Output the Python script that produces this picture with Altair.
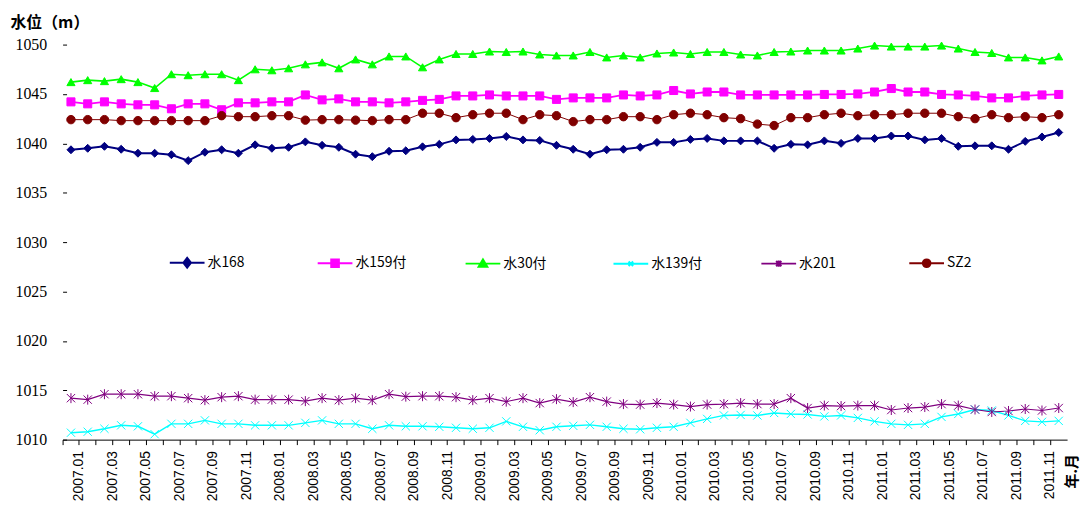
import altair as alt
import pandas as pd

months = [
    "2007.01", "2007.02", "2007.03", "2007.04", "2007.05", "2007.06", "2007.07", "2007.08", "2007.09", "2007.10", "2007.11", "2007.12",
    "2008.01", "2008.02", "2008.03", "2008.04", "2008.05", "2008.06", "2008.07", "2008.08", "2008.09", "2008.10", "2008.11", "2008.12",
    "2009.01", "2009.02", "2009.03", "2009.04", "2009.05", "2009.06", "2009.07", "2009.08", "2009.09", "2009.10", "2009.11", "2009.12",
    "2010.01", "2010.02", "2010.03", "2010.04", "2010.05", "2010.06", "2010.07", "2010.08", "2010.09", "2010.10", "2010.11", "2010.12",
    "2011.01", "2011.02", "2011.03", "2011.04", "2011.05", "2011.06", "2011.07", "2011.08", "2011.09", "2011.10", "2011.11", "2011.12",
]

series_names = ["水168", "水159付", "水30付", "水139付", "水201", "SZ2"]
series_colors = ["#000080", "#FF00FF", "#00FF00", "#00FFFF", "#800080", "#800000"]

s168 = [1039.35, 1039.5, 1039.7, 1039.4, 1039.0, 1039.0, 1038.85, 1038.25, 1039.1, 1039.35,
        1039.0, 1039.85, 1039.5, 1039.6, 1040.15, 1039.8, 1039.6, 1038.9, 1038.65, 1039.2,
        1039.25, 1039.65, 1039.9, 1040.35, 1040.4, 1040.5, 1040.7, 1040.35, 1040.3, 1039.8,
        1039.4, 1038.9, 1039.35, 1039.4, 1039.6, 1040.1, 1040.1, 1040.4, 1040.5, 1040.25,
        1040.25, 1040.25, 1039.5, 1039.9, 1039.85, 1040.25, 1040.0, 1040.5, 1040.5, 1040.75,
        1040.75, 1040.35, 1040.5, 1039.7, 1039.75, 1039.75, 1039.4, 1040.2, 1040.65, 1041.1]

s159 = [1044.2, 1044.0, 1044.2, 1044.0, 1043.9, 1043.9, 1043.5, 1044.0, 1044.0, 1043.4,
        1044.1, 1044.1, 1044.2, 1044.2, 1044.9, 1044.4, 1044.5, 1044.2, 1044.2, 1044.1,
        1044.2, 1044.35, 1044.45, 1044.8, 1044.8, 1044.9, 1044.8, 1044.8, 1044.8, 1044.45,
        1044.6, 1044.6, 1044.6, 1044.9, 1044.8, 1044.9, 1045.35, 1045.0, 1045.2, 1045.2,
        1044.9, 1044.9, 1044.9, 1044.9, 1044.9, 1044.95, 1044.95, 1045.0, 1045.2, 1045.55,
        1045.2, 1045.2, 1044.95, 1044.9, 1044.8, 1044.6, 1044.6, 1044.8, 1044.9, 1044.95]

s30 = [1046.2, 1046.4, 1046.3, 1046.5, 1046.2, 1045.6, 1047.0, 1046.9, 1047.0, 1047.0,
       1046.4, 1047.5, 1047.4, 1047.6, 1048.0, 1048.2, 1047.6, 1048.5, 1048.0, 1048.8,
       1048.8, 1047.7, 1048.5, 1049.05, 1049.05, 1049.3, 1049.25, 1049.3, 1049.0, 1048.9,
       1048.9, 1049.25, 1048.7, 1048.9, 1048.7, 1049.1, 1049.2, 1049.05, 1049.25, 1049.25,
       1049.0, 1048.9, 1049.25, 1049.3, 1049.4, 1049.4, 1049.4, 1049.6, 1049.9, 1049.8,
       1049.8, 1049.8, 1049.9, 1049.6, 1049.25, 1049.15, 1048.7, 1048.7, 1048.4, 1048.8]

s139 = [1010.7, 1010.8, 1011.1, 1011.45, 1011.35, 1010.55, 1011.6, 1011.6, 1011.95, 1011.6,
        1011.6, 1011.45, 1011.45, 1011.45, 1011.7, 1011.95, 1011.6, 1011.6, 1011.1, 1011.45,
        1011.35, 1011.35, 1011.3, 1011.2, 1011.1, 1011.2, 1011.85, 1011.3, 1010.95, 1011.3,
        1011.4, 1011.5, 1011.3, 1011.1, 1011.05, 1011.2, 1011.3, 1011.7, 1012.1, 1012.45,
        1012.5, 1012.45, 1012.7, 1012.6, 1012.55, 1012.35, 1012.45, 1012.2, 1011.85, 1011.6,
        1011.5, 1011.6, 1012.3, 1012.6, 1013.05, 1012.95, 1012.45, 1011.9, 1011.8, 1011.9]

s201 = [1014.2, 1014.05, 1014.6, 1014.6, 1014.6, 1014.4, 1014.4, 1014.2, 1014.0, 1014.3,
        1014.4, 1014.05, 1014.05, 1014.05, 1013.9, 1014.2, 1014.0, 1014.2, 1014.0, 1014.6,
        1014.35, 1014.4, 1014.4, 1014.3, 1014.0, 1014.2, 1013.85, 1014.2, 1013.7, 1014.1,
        1013.8, 1014.3, 1013.85, 1013.6, 1013.55, 1013.7, 1013.55, 1013.35, 1013.55, 1013.6,
        1013.7, 1013.6, 1013.6, 1014.2, 1013.2, 1013.45, 1013.4, 1013.45, 1013.45, 1013.0,
        1013.2, 1013.3, 1013.6, 1013.45, 1013.05, 1012.8, 1012.9, 1013.1, 1012.95, 1013.2]

sz2 = [1042.4, 1042.4, 1042.4, 1042.3, 1042.3, 1042.3, 1042.3, 1042.3, 1042.3, 1042.8,
       1042.7, 1042.7, 1042.8, 1042.8, 1042.35, 1042.4, 1042.4, 1042.35, 1042.3, 1042.4,
       1042.4, 1043.05, 1043.05, 1042.6, 1042.9, 1043.05, 1043.05, 1042.4, 1042.9, 1042.8,
       1042.2, 1042.4, 1042.4, 1042.7, 1042.7, 1042.4, 1042.9, 1043.05, 1042.9, 1042.6,
       1042.5, 1041.95, 1041.8, 1042.6, 1042.6, 1042.9, 1043.05, 1042.8, 1042.9, 1042.9,
       1043.05, 1043.05, 1043.05, 1042.7, 1042.5, 1042.9, 1042.6, 1042.7, 1042.6, 1042.9]

all_values = [s168, s159, s30, s139, s201, sz2]

# marker styles
line_widths = [2, 1, 1, 2, 2, 2]
marker_shapes = [
    "diamond",
    "square",
    "triangle-up",
    "M-1,-1L1,1M-1,1L1,-1",
    "M-1,-1L1,1M-1,1L1,-1M0,-1.2V1.2",
    "circle",
]
marker_sizes = [64, 72, 72, 36, 36, 72]
legend_shapes = [
    "M-1,0H1M-0.22,0L0,-0.28L0.22,0L0,0.28Z",
    "M-1,0H1M-0.22,-0.22H0.22V0.22H-0.22Z",
    "M-1,0H1M-0.25,0.18L0,-0.24L0.25,0.18Z",
    "M-1,0H1M-0.13,-0.13L0.13,0.13M-0.13,0.13L0.13,-0.13",
    "M-1,0H1M-0.15,-0.15L0.15,0.15M-0.15,0.15L0.15,-0.15M0,-0.18V0.18",
    "M-1,0H1M-0.22,0A0.22,0.22,0,1,0,0.22,0A0.22,0.22,0,1,0,-0.22,0Z",
]

rows = []
for name, vals in zip(series_names, all_values):
    for m, v in zip(months, vals):
        rows.append({"month": m, "series": name, "value": v})
df = pd.DataFrame(rows)

band_half = 1012 / 60 / 2

x_enc = alt.X(
    "month:O",
    sort=months,
    scale=alt.Scale(type="band", domain=months, paddingInner=0, paddingOuter=0),
    axis=alt.Axis(
        title="年.月",
        titleAngle=270,
        titleAlign="right",
        titleBaseline="middle",
        titleX=1016,
        titleY=14,
        titleFont="Noto Sans CJK SC",
        titleFontSize=15,
        titleFontWeight="bold",
        titleColor="black",
        bandPosition=0,
        labelOffset=band_half,
        labelAngle=270,
        labelExpr="toNumber(substring(datum.value, 5, 7)) % 2 == 1 ? datum.value : ''",
        labelOverlap=False,
        labelFont="Liberation Sans",
        labelFontSize=14,
        labelColor="black",
        labelPadding=6,
        tickSize=5,
        tickColor="black",
        domainColor="black",
        grid=False,
    ),
)

y_enc = alt.Y(
    "value:Q",
    scale=alt.Scale(domain=[1010, 1050], nice=False, zero=False),
    axis=alt.Axis(
        values=[1010, 1015, 1020, 1025, 1030, 1035, 1040, 1045, 1050],
        format="d",
        domain=False,
        grid=False,
        offset=-4,
        tickSize=4,
        tickColor="black",
        labelFont="Liberation Serif, DejaVu Serif, serif",
        labelFontSize=16,
        labelColor="black",
        labelPadding=16,
        title="水位（m）",
        titleAngle=0,
        titleAlign="left",
        titleBaseline="middle",
        titleX=-57,
        titleY=-22,
        titleFont="Noto Sans CJK SC",
        titleFontSize=16,
        titleFontWeight="bold",
        titleColor="black",
    ),
)

base = alt.Chart(df).encode(x=x_enc, y=y_enc)

lines = base.mark_line().encode(
    color=alt.Color("series:N", scale=alt.Scale(domain=series_names, range=series_colors), legend=None),
    strokeWidth=alt.StrokeWidth("series:N", scale=alt.Scale(domain=series_names, range=line_widths), legend=None),
)

points = base.mark_point(filled=True, opacity=1, strokeWidth=1).encode(
    color=alt.Color("series:N", scale=alt.Scale(domain=series_names, range=series_colors), legend=None),
    stroke=alt.Stroke("series:N", scale=alt.Scale(domain=series_names, range=series_colors), legend=None),
    shape=alt.Shape("series:N", scale=alt.Scale(domain=series_names, range=marker_shapes), legend=None),
    size=alt.Size("series:N", scale=alt.Scale(domain=series_names, range=marker_sizes), legend=None),
)

legend_def = alt.Legend(
    title=None,
    orient="none",
    legendX=107,
    legendY=201,
    direction="horizontal",
    columns=6,
    gridAlign="all",
    columnPadding=55,
    symbolSize=1225,
    symbolStrokeWidth=2,
    symbolOpacity=1,
    labelOffset=2,
    labelFont="Noto Sans CJK SC",
    labelFontSize=14,
    labelColor="black",
)

legend_layer = base.mark_point(filled=True, opacity=1, strokeWidth=2).encode(
    color=alt.Color("series:N", scale=alt.Scale(domain=series_names, range=series_colors), legend=legend_def),
    stroke=alt.Stroke("series:N", scale=alt.Scale(domain=series_names, range=series_colors), legend=legend_def),
    shape=alt.Shape("series:N", scale=alt.Scale(domain=series_names, range=legend_shapes), legend=legend_def),
).transform_filter("false")

chart = (
    alt.layer(lines, points, legend_layer)
    .resolve_scale(color="independent", stroke="independent", shape="independent",
                   size="independent", strokeWidth="independent")
    .properties(
        width=1012,
        height=398,
        autosize=alt.AutoSizeParams(type="none"),
        padding={"left": 55, "top": 35, "right": 13, "bottom": 65},
        background="white",
    )
    .configure_view(stroke=None)
)

chart.save("out.html", embed_options={"renderer": "svg", "actions": False})
